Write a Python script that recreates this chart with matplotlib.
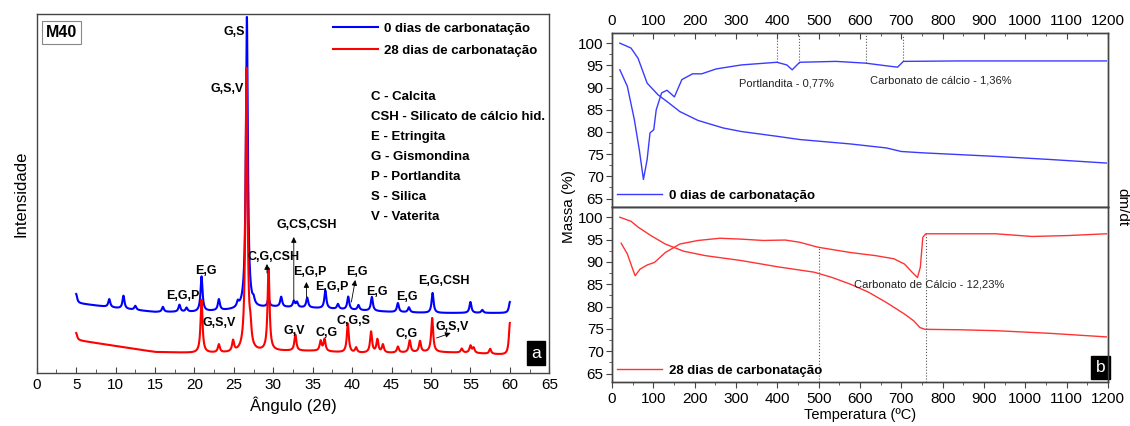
import numpy as np
import matplotlib
matplotlib.use('Agg')
import matplotlib.pyplot as plt
from matplotlib.ticker import MultipleLocator

plt.rcParams['font.family'] = ['Liberation Sans', 'DejaVu Sans']

# ---------- (a) DRX da argamassa M40 ----------
# linha de base (2theta, intensidade) e picos (2theta, altura acima da base)
base_0d_x = [5, 10, 15, 20, 25, 30, 35, 40, 45, 50, 55, 60]
base_0d_y = [70, 65, 61, 61, 63, 66, 65, 63, 61, 60, 60, 60]
peaks_0d_pos = [5.0, 9.2, 11.0, 12.5, 16.0, 18.1, 19.0, 20.9, 23.1, 25.5, 26.65,
                27.5, 29.4, 31.0, 32.6, 33.0, 34.3, 36.6, 38.2, 39.5, 40.8, 42.5,
                45.8, 47.2, 50.2, 55.0, 56.5, 60.0]
peaks_0d_h = [9, 8, 13, 4, 5, 7, 4, 35, 11, 5, 293,
              5, 8, 10, 6, 5, 10, 18, 5, 13, 5, 14,
              9, 5, 20, 11, 3, 11]

base_28d_x = [5, 10, 15, 20, 25, 30, 35, 40, 45, 50, 55, 60]
base_28d_y = [33, 27, 21, 20, 20, 22, 22, 20, 20, 21, 20, 18]
peaks_28d_pos = [5.0, 20.9, 23.1, 24.9, 26.6, 27.1, 29.4, 32.8, 36.0, 36.5, 39.45,
                 40.5, 42.4, 43.2, 43.9, 45.8, 47.3, 48.6, 50.15, 53.9, 55.0, 55.4,
                 57.5, 60.0]
peaks_28d_h = [7, 53, 8, 11, 283, 16, 82, 16, 10, 12, 29,
               5, 21, 13, 8, 6, 12, 11, 34, 4, 7, 5,
               5, 32]

phase_legend = ['C - Calcita', 'CSH - Silicato de cálcio hid.', 'E - Etringita',
                'G - Gismondina', 'P - Portlandita', 'S - Silica', 'V - Vaterita']

# rótulos dos picos: (texto, 2theta, intensidade, alinhamento)
peak_labels = [('G,S', 26.4, 341, 'right'), ('G,S,V', 26.3, 284, 'right'),
               ('E,G', 21.4, 102, 'center'), ('E,G,P', 18.5, 77, 'center'),
               ('C,G,CSH', 30.0, 116, 'center'), ('G,CS,CSH', 34.2, 148, 'center'),
               ('E,G,P', 34.6, 101, 'center'), ('E,G,P', 37.4, 86, 'center'),
               ('E,G', 40.6, 101, 'center'), ('E,G', 43.1, 81, 'center'),
               ('E,G', 46.9, 76, 'center'), ('E,G,CSH', 51.6, 92, 'center'),
               ('G,S,V', 23.1, 50, 'center'), ('G,V', 32.6, 42, 'center'),
               ('C,G', 36.8, 40, 'center'), ('C,G,S', 40.2, 52, 'center'),
               ('C,G', 46.9, 39, 'center'), ('G,S,V', 52.7, 46, 'center')]
# setas: (x0, y0) -> (x1, y1)
peak_arrows = [((32.6, 73), (32.6, 136)), ((29.2, 100), (29.2, 109)),
               ((34.2, 76), (34.2, 91)), ((39.9, 71), (40.4, 93)),
               ((50.7, 35), (52.5, 40))]

# ---------- (b) TG / DTG ----------
tg_0d_T = [19, 46, 63, 85, 111, 138, 164, 208, 269, 313, 401, 454, 577, 664, 700,
           752, 928, 1060, 1196]
tg_0d_m = [100, 98.9, 96.6, 91.0, 88.4, 86.5, 84.6, 82.6, 80.9, 80.1, 79.0, 78.3,
           77.3, 76.4, 75.6, 75.3, 74.5, 73.8, 73.0]
dtg_0d_T = [19, 37, 54, 66, 76, 85, 92, 101, 107, 120, 133, 151, 169, 195, 217, 252,
            313, 399, 423, 436, 454, 542, 614, 664, 691, 705, 840, 1016, 1196]
dtg_0d_v = [94.0, 90.3, 82.8, 76.0, 69.3, 73.8, 79.8, 80.5, 85.0, 88.8, 89.4, 87.9,
            91.8, 93.1, 93.1, 94.2, 95.1, 95.7, 95.1, 94.0, 95.7, 95.9, 95.5, 94.9,
            94.6, 95.9, 96.0, 96.0, 96.0]

tg_28d_T = [19, 46, 63, 94, 129, 173, 226, 313, 401, 489, 533, 577, 621, 664, 708,
            730, 745, 757, 840, 928, 1060, 1196]
tg_28d_m = [100, 99.1, 97.8, 95.9, 94.0, 92.4, 91.4, 90.3, 88.9, 87.7, 86.5, 85.0,
            83.2, 80.9, 78.3, 76.8, 75.3, 74.9, 74.8, 74.6, 74.0, 73.2]
dtg_28d_T = [22, 37, 50, 56, 68, 85, 103, 129, 164, 208, 261, 313, 366, 419, 454,
             498, 577, 638, 682, 708, 726, 739, 746, 752, 759, 840, 928, 1016,
             1103, 1196]
dtg_28d_v = [94.2, 91.8, 88.4, 86.9, 88.4, 89.3, 89.9, 92.1, 94.0, 94.8, 95.3, 95.1,
             94.8, 94.9, 94.4, 93.3, 92.1, 91.4, 90.7, 89.5, 87.7, 86.5, 88.8, 95.5,
             96.3, 96.3, 96.3, 95.7, 95.9, 96.3]

marks_0d = [398, 453, 614, 705]
marks_28d = [500, 760]

BLUE = '#0000ff'
RED = '#ff0000'
SPINE = '#444444'


def xrd_curve(x, bx, by, pos, h, w=0.15):
    y = np.interp(x, bx, by)
    for p, a in zip(pos, h):
        y = y + a / (1 + ((x - p) / w) ** 2)
    return y


def style_spines(ax):
    for s in ax.spines.values():
        s.set_color(SPINE)
        s.set_linewidth(1.0)


fig = plt.figure(figsize=(11.3, 4.26), dpi=100)

# ----- painel a -----
ax = fig.add_axes([0.0325, 0.1244, 0.4536, 0.8427])
tt = np.arange(5, 60.001, 0.02)
ax.plot(tt, xrd_curve(tt, base_0d_x, base_0d_y, peaks_0d_pos, peaks_0d_h),
        color=BLUE, lw=1.5, label='0 dias de carbonatação')
ax.plot(tt, xrd_curve(tt, base_28d_x, base_28d_y, peaks_28d_pos, peaks_28d_h),
        color=RED, lw=1.5, label='28 dias de carbonatação')
ax.set_xlim(0, 65)
ax.set_ylim(0, 359)
ax.xaxis.set_major_locator(MultipleLocator(5))
ax.xaxis.set_minor_locator(MultipleLocator(2.5))
ax.tick_params(axis='x', which='both', direction='in', labelsize=11, color=SPINE)
ax.tick_params(axis='x', which='major', length=4)
ax.tick_params(axis='x', which='minor', length=3)
ax.set_yticks([])
ax.set_xlabel('Ângulo (2θ)', fontsize=12, labelpad=3)
ax.set_ylabel('Intensidade', fontsize=12, labelpad=6)
style_spines(ax)

ax.legend(loc='upper left', bbox_to_anchor=(0.578, 0.977), frameon=False,
          prop={'weight': 'bold', 'size': 9.5}, handlelength=3.4, handletextpad=0.5,
          labelspacing=0.75, borderaxespad=0, borderpad=0)

for i, s in enumerate(phase_legend):
    ax.text(42.4, 276 - 20 * i, s, fontsize=9.5, fontweight='bold', va='center')

for s, x, y, ha in peak_labels:
    ax.text(x, y, s, fontsize=9, fontweight='bold', ha=ha, va='center')
for (x0, y0), (x1, y1) in peak_arrows:
    ax.annotate('', xy=(x1, y1), xytext=(x0, y0),
                arrowprops=dict(arrowstyle='-|>', color='black', lw=0.6,
                                mutation_scale=8, shrinkA=0, shrinkB=0))

ax.text(0.049, 0.948, 'M40', transform=ax.transAxes, fontsize=11.5, fontweight='bold',
        ha='center', va='center',
        bbox=dict(boxstyle='square,pad=0.25', fc='white', ec='#888888', lw=0.8))
ax.text(0.974, 0.055, 'a', transform=ax.transAxes, fontsize=12.5, color='white',
        ha='center', va='center', bbox=dict(boxstyle='square,pad=0.25', fc='black', ec='black'))

# ----- painel b -----
ylim_b = (63.1, 102.3)
ax1 = fig.add_axes([0.5416, 0.5141, 0.4389, 0.4085])
ax2 = fig.add_axes([0.5416, 0.1033, 0.4389, 0.4108])
for a in (ax1, ax2):
    a.set_xlim(0, 1200)
    a.set_ylim(*ylim_b)
    a.xaxis.set_major_locator(MultipleLocator(100))
    a.xaxis.set_minor_locator(MultipleLocator(50))
    a.yaxis.set_major_locator(MultipleLocator(5))
    a.yaxis.set_minor_locator(MultipleLocator(2.5))
    a.tick_params(axis='y', which='both', direction='out', labelsize=11, color=SPINE, pad=2)
    a.tick_params(axis='y', which='major', length=4)
    a.tick_params(axis='y', which='minor', length=2.5)
    style_spines(a)

ax1.tick_params(axis='x', which='both', direction='in', top=True, labeltop=True,
                bottom=False, labelbottom=False, labelsize=11, color=SPINE)
ax1.tick_params(axis='x', which='major', length=4)
ax1.tick_params(axis='x', which='minor', length=2.5)
ax2.tick_params(axis='x', which='both', direction='out', labelsize=11, color=SPINE)
ax2.tick_params(axis='x', which='major', length=4)
ax2.tick_params(axis='x', which='minor', length=2.5)
ax2.set_xlabel('Temperatura (ºC)', fontsize=10.5, labelpad=1)

ax1.plot(tg_0d_T, tg_0d_m, color='#3b3bff', lw=1.0, label='0 dias de carbonatação')
ax2.plot(tg_28d_T, tg_28d_m, color='#ff3333', lw=1.0, label='28 dias de carbonatação')

# DTG em eixo secundário sem escala
for a, T, v, c in ((ax1, dtg_0d_T, dtg_0d_v, '#3b3bff'), (ax2, dtg_28d_T, dtg_28d_v, '#ff3333')):
    tw = a.twinx()
    tw.set_ylim(*ylim_b)
    tw.set_yticks([])
    tw.plot(T, v, color=c, lw=1.0)
    style_spines(tw)

for T in marks_0d:
    v = np.interp(T, dtg_0d_T, dtg_0d_v)
    ax1.plot([T, T], [v, 101.8], color='#555555', lw=0.8, ls=':')
for T in marks_28d:
    v = np.interp(T, dtg_28d_T, dtg_28d_v)
    ax2.plot([T, T], [ylim_b[0], v], color='#555555', lw=0.8, ls=':')

ax1.text(423, 91.0, 'Portlandita - 0,77%', fontsize=8, ha='center', va='center', color='#222222')
ax1.text(795, 91.7, 'Carbonato de cálcio - 1,36%', fontsize=8, ha='center', va='center', color='#222222')
ax2.text(767, 85.0, 'Carbonato de Cálcio - 12,23%', fontsize=8, ha='center', va='center', color='#222222')

for a in (ax1, ax2):
    a.legend(loc='lower left', bbox_to_anchor=(0.011, 0.03), frameon=False,
             prop={'weight': 'bold', 'size': 9.5}, handlelength=3.4, handletextpad=0.5,
             borderaxespad=0, borderpad=0)

ax2.text(0.985, 0.083, 'b', transform=ax2.transAxes, fontsize=12.5, color='white',
         ha='center', va='center', bbox=dict(boxstyle='square,pad=0.25', fc='black', ec='black'))

fig.text(0.5035, 0.514, 'Massa (%)', rotation=90, fontsize=11, ha='center', va='center')
fig.text(0.993, 0.514, 'dm/dt', rotation=-90, fontsize=11, ha='center', va='center')

fig.savefig('out.png', dpi=100)
